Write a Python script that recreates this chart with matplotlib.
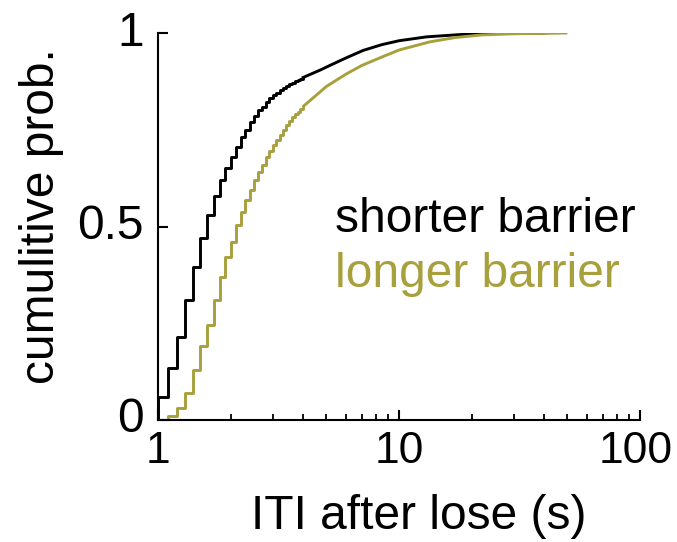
import matplotlib.pyplot as plt
import matplotlib.transforms as mtransforms
import numpy as np

plt.rcParams['font.family'] = ['Liberation Sans', 'DejaVu Sans']

# ITI values are binned at 0.1 s; cumulative prob. after each bin
iti_grid = [1.0, 1.1, 1.2, 1.3, 1.4, 1.5, 1.6, 1.7, 1.8, 1.9,
            2.0, 2.1, 2.2, 2.3, 2.4, 2.5, 2.6, 2.7, 2.8, 2.9,
            3.0, 3.1, 3.2, 3.3, 3.4, 3.5, 3.6, 3.7, 3.8, 3.9, 4.0]
cdf_shorter = [0.06, 0.135, 0.215, 0.31, 0.395, 0.47, 0.53, 0.58, 0.62, 0.65,
               0.68, 0.705, 0.73, 0.75, 0.77, 0.785, 0.80, 0.81, 0.822, 0.832,
               0.84, 0.846, 0.852, 0.857, 0.862, 0.867, 0.871, 0.875, 0.879, 0.882, 0.885]
cdf_longer = [0.0, 0.01, 0.03, 0.07, 0.13, 0.19, 0.245, 0.31, 0.37, 0.42,
              0.46, 0.504, 0.537, 0.568, 0.594, 0.62, 0.64, 0.66, 0.68, 0.695,
              0.71, 0.724, 0.737, 0.749, 0.761, 0.773, 0.782, 0.79, 0.797, 0.804, 0.81]

# tails, where the steps are too small to see
tail_x_shorter = [4.0, 4.7, 5.2, 6.0, 7.1, 8.5, 10, 13, 18, 25, 40]
tail_y_shorter = [0.885, 0.904, 0.917, 0.935, 0.955, 0.97, 0.98, 0.99, 0.996, 0.999, 1.0]
tail_x_longer = [4.0, 5.0, 6.0, 7.0, 8.5, 10, 13.4, 17, 22, 30, 50]
tail_y_longer = [0.81, 0.862, 0.893, 0.916, 0.938, 0.956, 0.977, 0.988, 0.995, 0.998, 1.0]

black = 'black'
olive = '#a8a03c'
lw = 2.1
fs = 34.5

fig = plt.figure(figsize=(6.77, 5.42), dpi=100)
ax = fig.add_axes([158/677, 1 - 420/542, (640 - 158)/677, (420 - 33)/542])

# shorter barrier
ax.step([1.0] + iti_grid, [0.0] + cdf_shorter, where='post', color=black, lw=lw)
ax.plot(tail_x_shorter, tail_y_shorter, color=black, lw=lw)
# longer barrier (on top)
ax.step([1.0] + iti_grid, [0.0] + cdf_longer, where='post', color=olive, lw=lw)
ax.plot(tail_x_longer, tail_y_longer, color=olive, lw=lw, solid_capstyle='butt')

ax.set_xscale('log')
ax.set_xlim(1, 100)
ax.set_ylim(0, 1)
ax.set_xticks([1, 10, 100])
ax.set_xticklabels(['1', '10', '100'])
ax.set_yticks([0, 0.5, 1])
ax.set_yticklabels(['0', '0.5', '1'])

for side in ['top', 'right']:
    ax.spines[side].set_visible(False)
for side in ['left', 'bottom']:
    ax.spines[side].set_linewidth(1.5)

ax.tick_params(which='major', direction='in', length=7, width=1.5)
ax.tick_params(axis='y', pad=10, labelsize=fs)
ax.tick_params(axis='x', pad=8, labelsize=32)
ax.tick_params(which='minor', direction='in', length=4, width=1.3)
ax.tick_params(axis='y', which='minor', left=False)

# y tick labels sit a little above their ticks
up = mtransforms.ScaledTranslation(0, 5/100, fig.dpi_scale_trans)
for lab in ax.get_yticklabels():
    lab.set_transform(lab.get_transform() + up)
# keep "100" inside the figure
left = mtransforms.ScaledTranslation(-4/100, 0, fig.dpi_scale_trans)
lab100 = ax.get_xticklabels()[-1]
lab100.set_transform(lab100.get_transform() + left)

ax.set_xlabel('ITI after lose (s)', fontsize=fs)
ax.xaxis.set_label_coords(0.54, -0.19)
ax.set_ylabel('cumulitive prob.', fontsize=fs)
ax.yaxis.set_label_coords(-0.195, 0.527)

fig.text(335/677, 1 - 232/542, 'shorter barrier', fontsize=fs, color=black,
         ha='left', va='baseline')
fig.text(335/677, 1 - 287/542, 'longer barrier', fontsize=fs, color=olive,
         ha='left', va='baseline')

fig.savefig('out.png', dpi=100)
